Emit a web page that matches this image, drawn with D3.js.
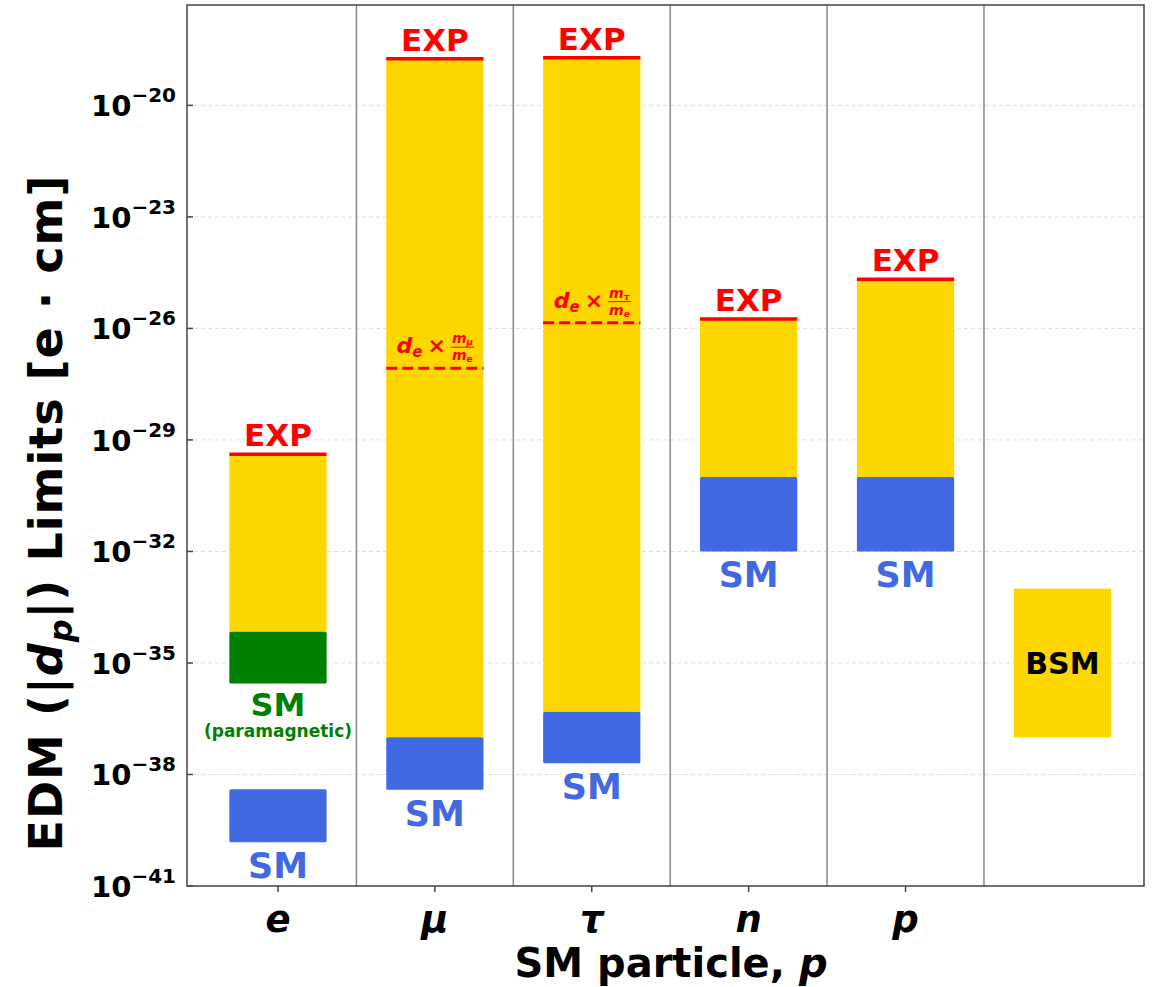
<!DOCTYPE html>
<html>
<head>
<meta charset="utf-8">
<script src="https://cdn.jsdelivr.net/npm/d3@7"></script>
<style>
  html, body { margin: 0; padding: 0; background: #fff; }
  svg { display: block; font-family: "DejaVu Sans", sans-serif; font-weight: bold; }
</style>
</head>
<body>
<div id="chart"></div>
<script>
// EDM limits per SM particle: experimental bound (EXP), SM prediction band,
// scaled electron bound for mu/tau, and a generic BSM window.
const particles = ["e", "μ", "τ", "n", "p"];
const expLimits = [4.1e-30, 1.8e-19, 1.9e-19, 1.8e-26, 2.1e-25];
const smUpper = [4.0e-39, 1.0e-37, 4.9e-37, 1.0e-30, 1.0e-30];
const smLower = [1.5e-40, 3.9e-39, 2.0e-38, 1.0e-32, 1.0e-32];
const paramagneticRange = [2.8e-36, 6.9e-35]; // electron, paramagnetic systems
const scaledIndex = [1, 2];
const scaledValues = [8.5e-28, 1.43e-26];
const scaledMass = ["μ", "τ"];
const bsmRange = [1.0e-37, 1.0e-33];
const yTickExps = [-41, -38, -35, -32, -29, -26, -23, -20];

const width = 1160, height = 987;
const m = { top: 5, right: 16, bottom: 101, left: 187 };
const iw = width - m.left - m.right;
const ih = height - m.top - m.bottom;

const RED = "#ff0000", GOLD = "#ffd700", BLUE = "#4169e1", GREEN = "#008000";

const svg = d3.select("#chart").append("svg")
  .attr("width", width).attr("height", height).attr("viewBox", `0 0 ${width} ${height}`);
const g = svg.append("g").attr("transform", `translate(${m.left},${m.top})`);

const x = d3.scaleLinear().domain([-0.58, 5.52]).range([0, iw]);
const y = d3.scaleLog().domain([1e-41, Math.pow(10, -17.3)]).range([ih, 0]);
const bw = x(0.62) - x(0);

// grid
g.append("g").selectAll("line").data(yTickExps).join("line")
  .attr("x1", 0).attr("x2", iw)
  .attr("y1", (d) => y(Math.pow(10, d))).attr("y2", (d) => y(Math.pow(10, d)))
  .attr("stroke", "#dedede").attr("stroke-width", 1).attr("stroke-dasharray", "4,3");

// separators between categories
g.append("g").selectAll("line").data(d3.range(0.5, 5, 1)).join("line")
  .attr("x1", (d) => x(d)).attr("x2", (d) => x(d)).attr("y1", 0).attr("y2", ih)
  .attr("stroke", "#888").attr("stroke-width", 1.5);

const idx = d3.range(particles.length);
const yellowBottom = idx.map((i) => (i === 0 ? paramagneticRange[1] : smUpper[i]));

// yellow allowed region between EXP and SM
g.append("g").selectAll("rect").data(idx).join("rect")
  .attr("x", (i) => x(i) - bw / 2).attr("width", bw)
  .attr("y", (i) => y(expLimits[i])).attr("height", (i) => y(yellowBottom[i]) - y(expLimits[i]))
  .attr("fill", GOLD);

// SM bands
g.append("g").selectAll("rect").data(idx).join("rect")
  .attr("x", (i) => x(i) - bw / 2).attr("width", bw)
  .attr("y", (i) => y(smUpper[i])).attr("height", (i) => y(smLower[i]) - y(smUpper[i]))
  .attr("fill", BLUE).attr("rx", 1.5);

// paramagnetic electron band
g.append("rect")
  .attr("x", x(0) - bw / 2).attr("width", bw)
  .attr("y", y(paramagneticRange[1])).attr("height", y(paramagneticRange[0]) - y(paramagneticRange[1]))
  .attr("fill", GREEN).attr("rx", 1.5);

// BSM window
g.append("rect")
  .attr("x", x(5) - bw / 2).attr("width", bw)
  .attr("y", y(bsmRange[1])).attr("height", y(bsmRange[0]) - y(bsmRange[1]))
  .attr("fill", GOLD);
g.append("text").attr("x", x(5)).attr("y", y(Math.sqrt(bsmRange[0] * bsmRange[1])) + 11)
  .attr("text-anchor", "middle").attr("font-size", 30).attr("fill", "#000").text("BSM");

// EXP lines + labels
g.append("g").selectAll("line").data(idx).join("line")
  .attr("x1", (i) => x(i) - bw / 2).attr("x2", (i) => x(i) + bw / 2)
  .attr("y1", (i) => y(expLimits[i])).attr("y2", (i) => y(expLimits[i]))
  .attr("stroke", RED).attr("stroke-width", 3.5);
g.append("g").selectAll("text").data(idx).join("text")
  .attr("x", (i) => x(i)).attr("y", (i) => y(expLimits[i]) - 8)
  .attr("text-anchor", "middle").attr("font-size", 31).attr("fill", RED).text("EXP");

// SM labels
g.append("g").selectAll("text").data(idx).join("text")
  .attr("x", (i) => x(i)).attr("y", (i) => y(smLower[i]) + 36)
  .attr("text-anchor", "middle").attr("font-size", 35).attr("fill", BLUE).text("SM");
g.append("text").attr("x", x(0)).attr("y", y(paramagneticRange[0]) + 32)
  .attr("text-anchor", "middle").attr("font-size", 32).attr("fill", GREEN).text("SM");
g.append("text").attr("x", x(0)).attr("y", y(paramagneticRange[0]) + 53)
  .attr("text-anchor", "middle").attr("font-size", 17).attr("fill", GREEN).text("(paramagnetic)");

// scaled electron bound: d_e × m_l / m_e
scaledIndex.forEach((pi, k) => {
  const yy = y(scaledValues[k]);
  g.append("line")
    .attr("x1", x(pi) - bw / 2).attr("x2", x(pi) + bw / 2).attr("y1", yy).attr("y2", yy)
    .attr("stroke", RED).attr("stroke-width", 3).attr("stroke-dasharray", "11,5");
  const lab = g.append("g").attr("fill", RED);
  const t = lab.append("text").attr("x", 0).attr("y", 0).attr("font-size", 22);
  t.append("tspan").attr("font-style", "italic").text("d");
  t.append("tspan").attr("font-style", "italic").attr("font-size", 15).attr("dy", 4).text("e");
  t.append("tspan").attr("dy", -4).attr("dx", 5).text("×");
  const tw = t.node().getComputedTextLength() + 5;
  const fx = tw + 6;
  const num = lab.append("text").attr("x", fx).attr("y", -10).attr("font-size", 14).attr("font-style", "italic");
  num.append("tspan").text("m");
  num.append("tspan").attr("font-size", 9).attr("dy", 2).text(scaledMass[k]);
  const den = lab.append("text").attr("x", fx).attr("y", 7).attr("font-size", 14).attr("font-style", "italic");
  den.append("tspan").text("m");
  den.append("tspan").attr("font-size", 9).attr("dy", 2).text("e");
  const fw = Math.max(num.node().getComputedTextLength(), den.node().getComputedTextLength());
  lab.append("line").attr("x1", fx - 1).attr("x2", fx + fw + 1).attr("y1", -6).attr("y2", -6)
    .attr("stroke", RED).attr("stroke-width", 1);
  const total = fx + fw;
  lab.attr("transform", `translate(${x(pi) - total / 2},${yy - 15})`);
});

// frame
g.append("rect").attr("x", 0).attr("y", 0).attr("width", iw).attr("height", ih)
  .attr("fill", "none").attr("stroke", "#444").attr("stroke-width", 1.5);

// y ticks (inward) and labels
const yt = g.append("g");
yTickExps.forEach((e) => {
  const yy = y(Math.pow(10, e));
  yt.append("line").attr("x1", 0).attr("x2", 6).attr("y1", yy).attr("y2", yy)
    .attr("stroke", "#444").attr("stroke-width", 1.5);
  const t = yt.append("text").attr("x", -11).attr("y", yy + 11).attr("text-anchor", "end")
    .attr("font-size", 29).attr("fill", "#000");
  t.append("tspan").text("10");
  t.append("tspan").attr("font-size", 20).attr("dy", -14).text("−" + Math.abs(e));
});

// x ticks (outward) and labels
const xt = g.append("g").attr("transform", `translate(0,${ih})`);
xt.selectAll("line").data(idx).join("line")
  .attr("x1", (i) => x(i)).attr("x2", (i) => x(i)).attr("y1", 0).attr("y2", 6)
  .attr("stroke", "#444").attr("stroke-width", 1.5);
xt.selectAll("text").data(idx).join("text")
  .attr("x", (i) => x(i)).attr("y", 46).attr("text-anchor", "middle")
  .attr("font-size", 37).attr("font-style", "italic").attr("fill", "#000")
  .text((i) => particles[i]);

// axis titles
const xl = svg.append("text").attr("x", 671).attr("y", 977)
  .attr("text-anchor", "middle").attr("font-size", 40).attr("fill", "#000");
xl.append("tspan").text("SM particle, ");
xl.append("tspan").attr("font-style", "italic").text("p");

const yl = svg.append("text").attr("transform", "translate(62,513) rotate(-90)")
  .attr("text-anchor", "middle").attr("font-size", 46).attr("letter-spacing", 1).attr("fill", "#000");
yl.append("tspan").text("EDM (|");
yl.append("tspan").attr("font-style", "italic").text("d");
yl.append("tspan").attr("font-style", "italic").attr("font-size", 32).attr("dy", 10).text("p");
yl.append("tspan").attr("dy", -10).text("|) Limits [e · cm]");
</script>
</body>
</html>
